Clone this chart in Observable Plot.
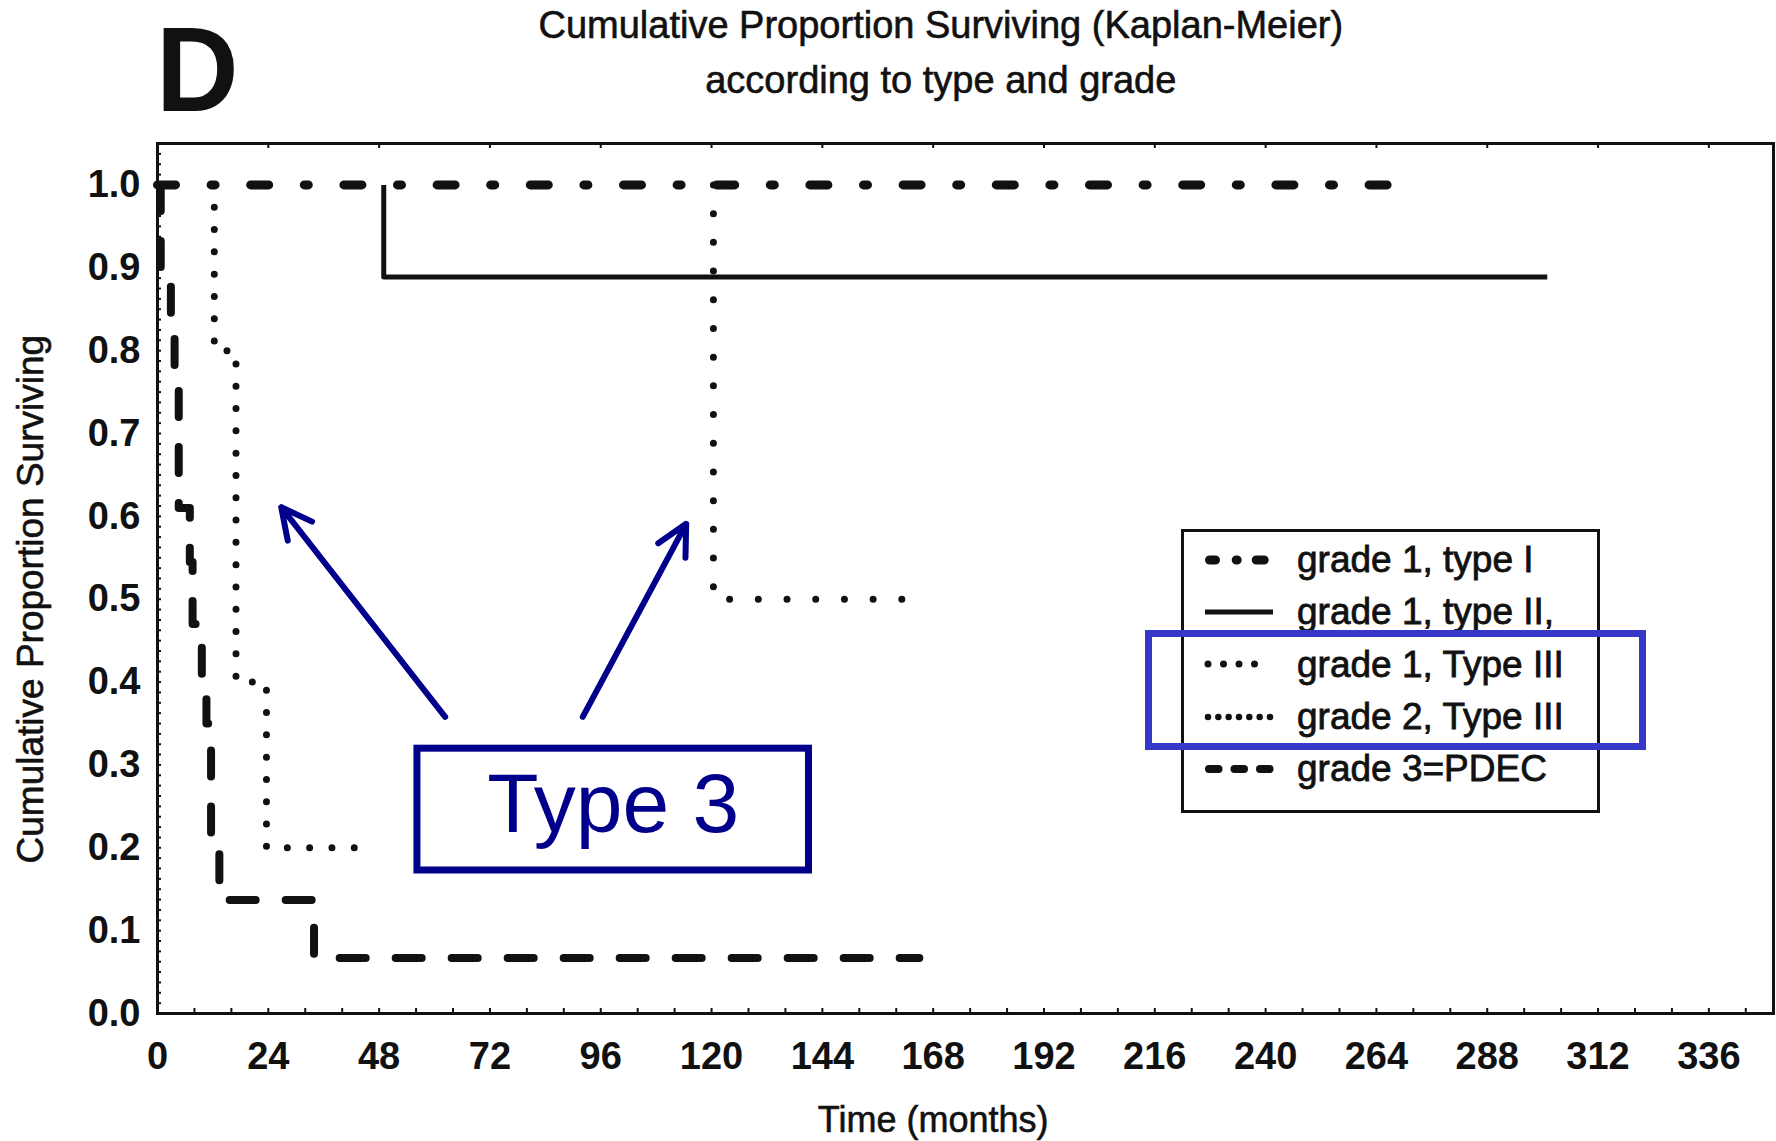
<!DOCTYPE html>
<html>
<head>
<meta charset="utf-8">
<script src="https://cdn.jsdelivr.net/npm/d3@7"></script>
<script src="https://cdn.jsdelivr.net/npm/@observablehq/plot@0.6"></script>
<style>
  html, body { margin: 0; padding: 0; background: #fff; overflow: hidden; }
  #wrap { position: relative; width: 1776px; height: 1141px; overflow: hidden;
          font-family: "Liberation Sans", Arial, Helvetica, sans-serif; color: #111; }
  #chart { position: absolute; left: 0; top: 0; }
  .t { position: absolute; white-space: nowrap; line-height: 1; }
  .heavy { -webkit-text-stroke: 0.6px #111; }
  #legend { position: absolute; left: 1180.5px; top: 529px; width: 419px; height: 284px;
            box-sizing: border-box; border: 3px solid #111; background: #fff; }
  .lg-row { position: absolute; white-space: nowrap; line-height: 1; font-size: 37px; -webkit-text-stroke: 0.8px #111; }
  .lg-sample { position: absolute; }
  #highlight { position: absolute; left: 1144.5px; top: 629.5px; width: 501.5px; height: 120.5px;
               box-sizing: border-box; border: 7px solid #3838c8; background: transparent; }
</style>
</head>
<body>
<div id="wrap">
  <div id="chart"></div>
  <div class="t" style="left:156px; top:8.8px; font-size:121px; font-weight:bold; transform:scaleX(0.945); transform-origin:left top;">D</div>
  <div class="t heavy" style="left:0; width:1881.6px; text-align:center; top:6.3px; font-size:38px;">Cumulative Proportion Surviving (Kaplan-Meier)</div>
  <div class="t heavy" style="left:0; width:1881.6px; text-align:center; top:60.8px; font-size:38px;">according to type and grade</div>
  <div id="legend"></div>
  <div id="legendRows"></div>
  <div id="highlight"></div>
</div>
<script>
// ---------------- data ----------------
const seriesNames = ["grade 1, type I", "grade 1, type II,", "grade 1, Type III", "grade 2, Type III", "grade 3=PDEC"];

const typeI_time  = [0, 267];
const typeI_surv  = [1, 1];

const typeII_time = [0, 49, 301];
const typeII_surv = [1, 0.889, 0.889];

const g1III_time  = [0, 120.4, 161.3];
const g1III_surv  = [1, 0.5, 0.5];

const g2III_time  = [0, 12.3, 17.0, 23.6, 44.5];
const g2III_surv  = [1, 0.8, 0.4, 0.2, 0.2];

const pdec_time   = [0, 0.7, 2.9, 3.7, 4.6, 7.0, 7.6, 9.6, 10.6, 11.6, 13.4, 33.9, 165];
const pdec_surv   = [1, 0.877, 0.817, 0.754, 0.61, 0.545, 0.47, 0.41, 0.35, 0.205, 0.137, 0.067, 0.067];

const xTicks = [0, 24, 48, 72, 96, 120, 144, 168, 192, 216, 240, 264, 288, 312, 336];
const yTicks = [0, 0.1, 0.2, 0.3, 0.4, 0.5, 0.6, 0.7, 0.8, 0.9, 1.0];

// annotation (callout) in data units
const calloutText = "Type 3";
const arrowFromTime = [62.3, 92.1];
const arrowFromSurv = [0.358, 0.358];
const arrowToTime   = [26.8, 114.5];
const arrowToSurv   = [0.611, 0.591];
const calloutTime   = [56.3, 141.1];
const calloutSurv   = [0.1726, 0.3196];

// ---------------- styles ----------------
const INK = "#111";
const NAVY = "#00008b";
const lineStyles = [
  {strokeWidth: 9, strokeDasharray: "18,35.6,4,35.6", strokeLinecap: "round"},
  {strokeWidth: 5, strokeDasharray: null, strokeLinecap: "butt"},
  {strokeWidth: 7, strokeDasharray: "0,28.7", strokeLinecap: "round"},
  {strokeWidth: 7, strokeDasharray: "0,22.3", strokeLinecap: "round"},
  {strokeWidth: 8, strokeDasharray: "26,30", strokeLinecap: "round"}
];
const legendStyles = [
  {w: 9, dash: "6,20.7,1,19,8", cap: "round", x1: 9.5, x2: 64.2},
  {w: 5, dash: null, cap: "butt", x1: 5, x2: 73},
  {w: 7, dash: "0,15.5", cap: "round", x1: 8, x2: 70},
  {w: 6.5, dash: "0,10.33", cap: "round", x1: 8, x2: 70},
  {w: 8, dash: "9.5,16", cap: "round", x1: 9, x2: 70}
];

// ---------------- build series ----------------
function kmPoints(name, T, S, trim) {
  let start = 0;
  if (trim) while (start + 1 < S.length && S[start + 1] === 1) start++;
  const pts = [];
  for (let i = start; i < T.length; i++) pts.push({name, t: T[i], s: S[i]});
  // the curves are not drawn along 1.0 before their first event
  if (trim && pts.length > 1) pts[0] = {name, t: T[start + 1], s: S[start]};
  return pts;
}
const series = [
  kmPoints(seriesNames[0], typeI_time, typeI_surv, false),
  kmPoints(seriesNames[1], typeII_time, typeII_surv, true),
  kmPoints(seriesNames[2], g1III_time, g1III_surv, true),
  kmPoints(seriesNames[3], g2III_time, g2III_surv, true),
  kmPoints(seriesNames[4], pdec_time, pdec_surv, true)
];

const arrows = arrowFromTime.map((d, i) => ({x1: d, y1: arrowFromSurv[i], x2: arrowToTime[i], y2: arrowToSurv[i]}));
const callout = [{x1: calloutTime[0], x2: calloutTime[1], y1: calloutSurv[0], y2: calloutSurv[1],
                  xm: d3.mean(calloutTime), text: calloutText}];

const minorX = d3.range(0, 351, 8);
const minorY = d3.range(0, 80 * 1.05 + 1).map(i => i / 80);

const W = 1776, H = 1141;
const mL = 157, mR = 3, mT = 143, mB = 128;
const frameW = W - mL - mR, frameH = H - mT - mB;

const lineMarks = [4, 3, 2, 1, 0].map(i => Plot.line(series[i], {
  x: "t", y: "s", curve: "step-after", stroke: INK,
  strokeWidth: lineStyles[i].strokeWidth,
  strokeDasharray: lineStyles[i].strokeDasharray,
  strokeLinecap: lineStyles[i].strokeLinecap,
  strokeLinejoin: "round"
}));

const chart = Plot.plot({
  width: W, height: H,
  marginLeft: mL, marginRight: mR, marginTop: mT, marginBottom: mB,
  x: {domain: [0, 350]},
  y: {domain: [0, 1.05]},
  style: {fontFamily: '"Liberation Sans", Arial, Helvetica, sans-serif', color: INK, background: "transparent", overflow: "visible"},
  marks: [
    Plot.tickX(minorX, {x: d => d, stroke: INK, strokeWidth: 2, insetTop: frameH - 5}),
    Plot.tickX(xTicks, {x: d => d, stroke: INK, strokeWidth: 2, insetBottom: frameH - 5}),
    Plot.tickY(minorY, {y: d => d, stroke: INK, strokeWidth: 2, insetRight: frameW - 4}),
    Plot.axisX({ticks: xTicks, tickSize: 0, tickPadding: 29, fontSize: 38, fontWeight: "bold", label: null, fill: INK}),
    Plot.axisY({ticks: yTicks, tickSize: 0, tickPadding: 17, tickFormat: d3.format(".1f"), fontSize: 38, fontWeight: "bold", label: null, fill: INK}),
    Plot.text(["Time (months)"], {x: [d3.mean(d3.extent(xTicks))], frameAnchor: "bottom", dy: 118.6, lineAnchor: "bottom", textAnchor: "middle", fontSize: 36, fill: INK, stroke: INK, strokeWidth: 0.6}),
    Plot.text(["Cumulative Proportion Surviving"], {y: [d3.mean(d3.extent(yTicks))], frameAnchor: "left", dx: -126, rotate: -90, textAnchor: "middle", lineAnchor: "middle", fontSize: 37, fill: INK, stroke: INK, strokeWidth: 0.6}),
    ...lineMarks,
    Plot.frame({stroke: INK, strokeWidth: 3}),
    Plot.arrow(arrows, {x1: "x1", y1: "y1", x2: "x2", y2: "y2", stroke: NAVY, strokeWidth: 6, headLength: 8.5, headAngle: 54}),
    Plot.rect(callout, {x1: "x1", x2: "x2", y1: "y1", y2: "y2", stroke: NAVY, strokeWidth: 7, fill: "white"}),
    Plot.text(callout, {x: "xm", y: d => (d.y1 + d.y2) / 2, text: "text", fontSize: 84, fill: NAVY, lineAnchor: "middle", dy: -4})
  ]
});
document.getElementById("chart").appendChild(chart);

// ---------------- legend (HTML) ----------------
const rows = document.getElementById("legendRows");
const baseline0 = 572.5, rowStep = 52.3;
seriesNames.forEach((name, i) => {
  const base = baseline0 + i * rowStep;
  const st = legendStyles[i];
  const sy = base - 12.7;
  const svgNS = "http://www.w3.org/2000/svg";
  const svg = document.createElementNS(svgNS, "svg");
  svg.setAttribute("width", 80); svg.setAttribute("height", 24);
  svg.setAttribute("class", "lg-sample");
  svg.style.left = "1200px"; svg.style.top = (sy - 12) + "px";
  const ln = document.createElementNS(svgNS, "line");
  ln.setAttribute("x1", st.x1); ln.setAttribute("x2", st.x2);
  ln.setAttribute("y1", 12); ln.setAttribute("y2", 12);
  ln.setAttribute("stroke", INK); ln.setAttribute("stroke-width", st.w);
  ln.setAttribute("stroke-linecap", st.cap);
  if (st.dash) ln.setAttribute("stroke-dasharray", st.dash);
  svg.appendChild(ln);
  rows.appendChild(svg);
  const tx = document.createElement("div");
  tx.className = "lg-row";
  tx.textContent = name;
  tx.style.left = "1297px";
  tx.style.top = (base - 0.8465 * 37) + "px";
  rows.appendChild(tx);
});
</script>
</body>
</html>
